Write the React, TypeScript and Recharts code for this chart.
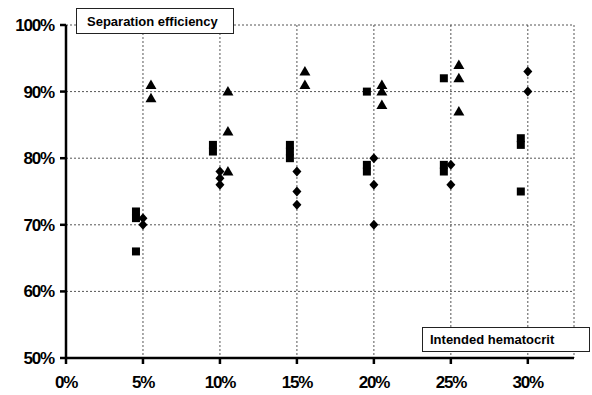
import { ScatterChart, Scatter, XAxis, YAxis, CartesianGrid } from "recharts";

const hematocrit = [5, 10, 15, 20, 25, 30];
const squareValues = [[72, 71, 66], [82, 81], [82, 81, 80], [90, 79, 78], [92, 79, 78], [83, 82, 75]];
const diamondValues = [[71, 70], [78, 77, 76], [78, 75, 73], [80, 76, 70], [79, 76], [93, 90]];
const triangleValues = [[91, 89], [90, 84, 78], [93, 91], [91, 90, 88], [94, 92, 87], []];
const xTicks = [0, 5, 10, 15, 20, 25, 30];
const yTicks = [50, 60, 70, 80, 90, 100];

const toPoints = (groups: number[][]) =>
  groups.flatMap((vals, i) => vals.map((v) => ({ x: hematocrit[i], y: v })));

const squares = toPoints(squareValues);
const diamonds = toPoints(diamondValues);
const triangles = toPoints(triangleValues);

const tickFont = {
  fontFamily: "'Liberation Sans', Arial, sans-serif",
  fontWeight: 700,
  fontSize: 17,
  letterSpacing: -1.2,
  fill: "#000",
};

const Square = (p: any) => (
  <rect x={p.cx - 11} y={p.cy - 4} width={8} height={8} fill="#000" />
);
const Diamond = (p: any) => (
  <path d={`M${p.cx},${p.cy - 5} L${p.cx + 4.5},${p.cy} L${p.cx},${p.cy + 5} L${p.cx - 4.5},${p.cy} Z`} fill="#000" />
);
const Triangle = (p: any) => (
  <path d={`M${p.cx + 8},${p.cy - 5.5} L${p.cx + 13.5},${p.cy + 4} L${p.cx + 2.5},${p.cy + 4} Z`} fill="#000" />
);

const boxStyle: React.CSSProperties = {
  position: "absolute",
  border: "1px solid #222",
  background: "#fff",
  fontFamily: "'Liberation Sans', Arial, sans-serif",
  fontWeight: 700,
  fontSize: 13,
  color: "#000",
  boxSizing: "border-box",
  display: "flex",
  alignItems: "center",
  paddingLeft: 10,
};

export default function App() {
  return (
    <div style={{ position: "absolute", left: 0, top: 0, width: 592, height: 395, background: "#fff" }}>
      <ScatterChart width={592} height={395} margin={{ top: 25, right: 18, bottom: 0, left: 0 }}>
        <CartesianGrid stroke="#555" strokeDasharray="2 2" strokeWidth={1} />
        <XAxis
          type="number"
          dataKey="x"
          domain={[0, 33]}
          ticks={xTicks}
          interval={0}
          allowDataOverflow
          tickFormatter={(v) => `${v}%`}
          axisLine={{ stroke: "#000", strokeWidth: 2.5 }}
          tickLine={{ stroke: "#000", strokeWidth: 2.5 }}
          tickSize={6}
          tickMargin={12}
          tick={tickFont}
          height={37}
        />
        <YAxis
          type="number"
          dataKey="y"
          domain={[50, 100]}
          ticks={yTicks}
          interval={0}
          tickFormatter={(v) => `${v}%`}
          axisLine={{ stroke: "#000", strokeWidth: 2.5 }}
          tickLine={{ stroke: "#000", strokeWidth: 2.5 }}
          tickSize={6}
          tickMargin={6}
          tick={tickFont}
          width={66}
        />
        <Scatter data={squares} shape={Square} isAnimationActive={false} />
        <Scatter data={diamonds} shape={Diamond} isAnimationActive={false} />
        <Scatter data={triangles} shape={Triangle} isAnimationActive={false} />
      </ScatterChart>
      <div style={{ ...boxStyle, left: 76, top: 8, width: 158, height: 26 }}>Separation efficiency</div>
      <div style={{ ...boxStyle, left: 422, top: 327, width: 168, height: 25, paddingLeft: 7 }}>Intended hematocrit</div>
    </div>
  );
}
